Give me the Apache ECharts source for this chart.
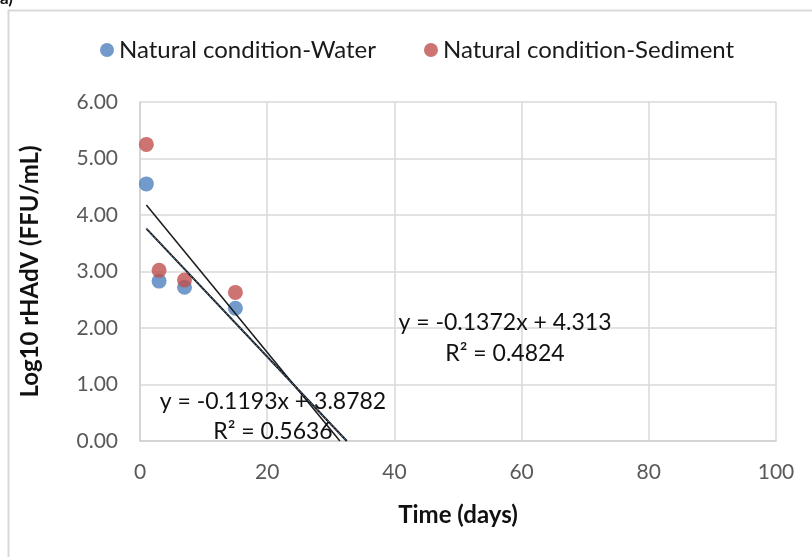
<!DOCTYPE html>
<html><head><meta charset="utf-8">
<script src="https://cdn.jsdelivr.net/npm/echarts@6/dist/echarts.min.js"></script>
<style>html,body{margin:0;padding:0;background:#fff}#c{width:812px;height:557px}</style>
</head><body><div id="c"></div>
<script>
const seriesNames = ['Natural condition-Water', 'Natural condition-Sediment'];
const timeDays = [1, 3, 7, 15];
const waterValues = [4.55, 2.83, 2.72, 2.35];
const sedimentValues = [5.25, 3.02, 2.85, 2.63];
const waterTrend = [-0.1193, 3.8782];     // slope, intercept
const sedimentTrend = [-0.1372, 4.313];
const waterR2 = '0.5636';
const sedimentR2 = '0.4824';
const xTicks = [0, 20, 40, 60, 80, 100];
const yTicks = [0, 1, 2, 3, 4, 5, 6];

const FONT = 'Lato, "Open Sans", sans-serif';
function trendPoints(t) {
  const x0 = timeDays[0];
  const x1 = -t[1] / t[0];
  return [[x0, t[0] * x0 + t[1]], [x1, 0]];
}
const chart = echarts.init(document.getElementById('c'), null, {renderer: 'canvas'});
chart.setOption({
  animation: false,
  backgroundColor: '#fff',
  grid: {left: 140, right: 36, top: 102, bottom: 116},
  legend: {
    top: 33, left: 95, itemGap: 48, itemWidth: 14, itemHeight: 14,
    icon: 'circle',
    data: seriesNames,
    textStyle: {fontFamily: FONT, fontSize: 24, color: '#1a1a1a', padding: [0, 0, 0, 0]}
  },
  xAxis: {
    type: 'value', min: xTicks[0], max: xTicks[xTicks.length - 1], interval: 20,
    name: 'Time (days)', nameLocation: 'middle', nameGap: 62,
    nameTextStyle: {fontFamily: FONT, fontSize: 24, fontWeight: 'bold', color: '#111'},
    axisLine: {show: true, lineStyle: {color: '#d0d0d0', width: 1.5}},
    axisTick: {show: false},
    axisLabel: {fontFamily: FONT, fontSize: 21, color: '#595959', margin: 21},
    splitLine: {show: true, lineStyle: {color: '#d9d9d9', width: 1.5}}
  },
  yAxis: {
    type: 'value', min: yTicks[0], max: yTicks[yTicks.length - 1], interval: 1,
    name: 'Log10 rHAdV (FFU/mL)', nameLocation: 'middle', nameGap: 98,
    nameTextStyle: {fontFamily: FONT, fontSize: 24, fontWeight: 'bold', color: '#111'},
    axisLine: {show: true, lineStyle: {color: '#d0d0d0', width: 1.5}},
    axisTick: {show: false},
    axisLabel: {fontFamily: FONT, fontSize: 21, color: '#595959', margin: 22,
      formatter: v => v.toFixed(2)},
    splitLine: {show: true, lineStyle: {color: '#d9d9d9', width: 1.5}}
  },
  series: [
    {name: seriesNames[0], type: 'scatter', symbolSize: 15, z: 3,
      itemStyle: {color: '#4f81bd'},
      data: timeDays.map((x, i) => [x, waterValues[i]])},
    {name: seriesNames[1], type: 'scatter', symbolSize: 15, z: 3,
      itemStyle: {color: '#c0504d'},
      data: timeDays.map((x, i) => [x, sedimentValues[i]])},
    {type: 'line', data: trendPoints(waterTrend), symbol: 'none', z: 4,
      lineStyle: {color: '#1a1a1a', width: 2}, silent: true},
    {type: 'line', data: trendPoints(waterTrend), symbol: 'none', z: 5,
      lineStyle: {color: '#4f81bd', width: 1, type: [2, 2]}, silent: true},
    {type: 'line', data: trendPoints(sedimentTrend), symbol: 'none', z: 4,
      lineStyle: {color: '#1a1a1a', width: 1.5}, silent: true}
  ],
  graphic: [
    {type: 'rect', left: 6, top: 8, shape: {x: 0, y: 0, width: 900, height: 700},
      style: {fill: 'none', stroke: '#d9d9d9', lineWidth: 2}, z: -1, silent: true},
    {type: 'text', left: 0, top: -10, style: {text: 'a)', font: 'bold 17px ' + FONT, fill: '#111'}},
    {type: 'text', x: 273, y: 402, style: {text: 'y = ' + waterTrend[0] + 'x + ' + waterTrend[1],
      font: '23px ' + FONT, fill: '#111', textAlign: 'center', textVerticalAlign: 'middle'}, z: 10},
    {type: 'text', x: 273, y: 432, style: {text: 'R² = ' + waterR2,
      font: '23px ' + FONT, fill: '#111', textAlign: 'center', textVerticalAlign: 'middle'}, z: 10},
    {type: 'text', x: 505, y: 323, style: {text: 'y = ' + sedimentTrend[0] + 'x + ' + sedimentTrend[1],
      font: '23px ' + FONT, fill: '#111', textAlign: 'center', textVerticalAlign: 'middle'}, z: 10},
    {type: 'text', x: 505, y: 354, style: {text: 'R² = ' + sedimentR2,
      font: '23px ' + FONT, fill: '#111', textAlign: 'center', textVerticalAlign: 'middle'}, z: 10}
  ]
});
</script></body></html>
